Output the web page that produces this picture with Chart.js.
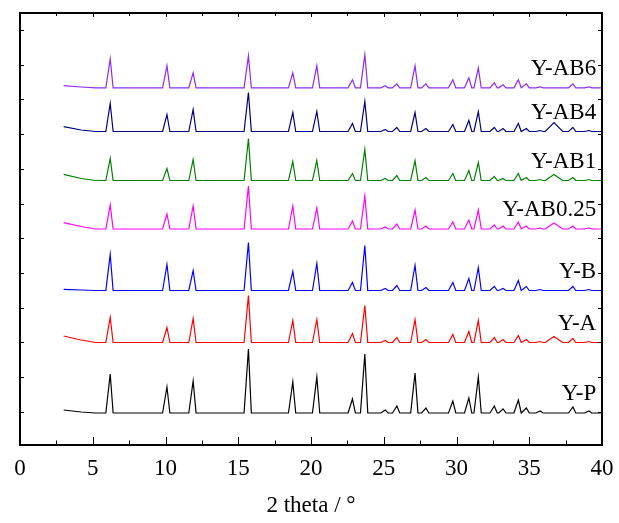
<!DOCTYPE html>
<html>
<head>
<meta charset="utf-8">
<script src="https://cdn.jsdelivr.net/npm/chart.js@4/dist/chart.umd.min.js"></script>
<style>
  html, body { margin: 0; padding: 0; background: #ffffff; }
  #wrap { width: 619px; height: 523px; }
</style>
</head>
<body>
<div id="wrap"><canvas id="xrd" width="619" height="523"></canvas></div>
<script>
// Reflection positions (2θ, degrees) shared by all patterns
const peakTheta = [6.2, 10.1, 11.9, 15.7, 18.75, 20.4, 22.85, 23.7, 25.1, 25.9, 27.15, 27.9,
                   29.75, 30.85, 31.5, 32.6, 33.2, 34.25, 34.8, 35.75, 36.7, 38.0, 39.1];

// Sample names, bottom to top
const sampleNames = ['Y-P', 'Y-A', 'Y-B', 'Y-AB0.25', 'Y-AB1', 'Y-AB4', 'Y-AB6'];

// Peak heights above background (offset intensity units), one per reflection
const heightsYP     = [39, 26, 32, 64, 31, 36, 14, 59, 3, 7, 40, 5, 12, 15, 36, 7, 4, 13, 5, 2, 0, 6, 2];
const heightsYA     = [25, 15, 24, 47, 22, 23, 9, 37, 2, 5, 23, 3, 8, 11, 22, 5, 3, 7, 3, 1, 6, 4, 1];
const heightsYB     = [36, 26, 20, 48, 19, 27, 8, 45, 2, 5, 25, 3, 8, 12, 23, 4, 2, 10, 4, 1, 0, 4, 1];
const heightsYAB025 = [24, 15, 23, 43, 23, 21, 8, 33, 2, 5, 19, 3, 7, 9, 19, 4, 3, 7, 3, 1, 6, 3, 1];
const heightsYAB1   = [22, 12, 21, 42, 19, 20, 7, 31, 2, 5, 20, 3, 7, 10, 18, 4, 2, 7, 3, 1, 6, 3, 1];
const heightsYAB4   = [28, 17, 22, 39, 19, 20, 8, 30, 2, 4, 19, 3, 7, 11, 20, 4, 3, 8, 3, 1, 9, 4, 1];
const heightsYAB6   = [29, 22, 15, 32, 15, 22, 8, 33, 2, 4, 22, 4, 8, 10, 20, 5, 3, 8, 4, 1, 0, 4, 1];

// Background level of each (offset) pattern: at 3°, at 4.2°, and from 5.2° on
const backgroundYP     = [35, 33, 32];
const backgroundYA     = [109, 105, 102.5];
const backgroundYB     = [155.7, 155, 154.5];
const backgroundYAB025 = [222.3, 218.5, 216];
const backgroundYAB1   = [270.7, 266.5, 264.5];
const backgroundYAB4   = [318.3, 315, 313.5];
const backgroundYAB6   = [359.3, 358, 357.2];

const lineColors = ['#000000', '#ff0000', '#0000ff', '#ff00ff', '#008000', '#000080', '#8c2cf5'];

// Axis ticks
const xMajorTicks = [0, 5, 10, 15, 20, 25, 30, 35, 40];
const xMinorTicks = [2.5, 7.5, 12.5, 17.5, 22.5, 27.5, 32.5, 37.5];
const yTickValues = [33.3, 68, 102.7, 137.4, 172.1, 206.8, 241.5, 276.2, 310.9, 345.6, 380.3, 415];

const allHeights = [heightsYP, heightsYA, heightsYB, heightsYAB025, heightsYAB1, heightsYAB4, heightsYAB6];
const allBackgrounds = [backgroundYP, backgroundYA, backgroundYB, backgroundYAB025, backgroundYAB1, backgroundYAB4, backgroundYAB6];

// Build the point list of one pattern: background, then each reflection as foot / top / foot
function patternPoints(bg, heights) {
  const pts = [{ x: 3.0, y: bg[0] }, { x: 4.2, y: bg[1] }, { x: 5.2, y: bg[2] }];
  peakTheta.forEach((p, i) => {
    const broad = p === 36.7;
    const left = broad ? 0.6 : 0.3;
    const right = broad ? 0.6 : 0.2;
    pts.push({ x: p - left, y: bg[2] });
    pts.push({ x: p, y: bg[2] + heights[i] });
    pts.push({ x: p + right, y: bg[2] });
  });
  pts.push({ x: 40, y: bg[2] });
  return pts;
}

const datasets = sampleNames.map((name, i) => ({
  label: name,
  data: patternPoints(allBackgrounds[i], allHeights[i]),
  borderColor: lineColors[i],
  borderWidth: 1.2,
  pointRadius: 0,
  tension: 0,
  fill: false
}));

const serif = "'Liberation Serif', 'Times New Roman', serif";

// Frame, inward tick marks and the sample names
const framePlugin = {
  id: 'frame',
  afterDatasetsDraw(chart) {
    const { ctx, chartArea: a, scales: { x, y } } = chart;
    ctx.save();
    ctx.strokeStyle = '#000';
    ctx.lineWidth = 1;
    ctx.beginPath();
    xMajorTicks.forEach(v => {
      const px = Math.round(x.getPixelForValue(v)) + 0.5;
      ctx.moveTo(px, a.bottom); ctx.lineTo(px, a.bottom - 8);
      ctx.moveTo(px, a.top); ctx.lineTo(px, a.top + 4);
    });
    xMinorTicks.forEach(v => {
      const px = Math.round(x.getPixelForValue(v)) + 0.5;
      ctx.moveTo(px, a.bottom); ctx.lineTo(px, a.bottom - 4.5);
      ctx.moveTo(px, a.top); ctx.lineTo(px, a.top + 3);
    });
    yTickValues.forEach(v => {
      const py = Math.round(y.getPixelForValue(v)) + 0.5;
      ctx.moveTo(a.left, py); ctx.lineTo(a.left + 4, py);
      ctx.moveTo(a.right, py); ctx.lineTo(a.right - 4, py);
    });
    ctx.stroke();

    ctx.lineWidth = 2;
    ctx.strokeRect(a.left, a.top, a.right - a.left, a.bottom - a.top);

    ctx.fillStyle = '#000';
    ctx.font = '23px ' + serif;
    ctx.textAlign = 'right';
    ctx.textBaseline = 'middle';
    sampleNames.forEach((name, i) => {
      const bg = allBackgrounds[i];
      ctx.fillText(name, x.getPixelForValue(39.6), y.getPixelForValue(bg[2] + 19));
    });
    ctx.restore();
  }
};

new Chart(document.getElementById('xrd'), {
  type: 'line',
  data: { datasets },
  options: {
    responsive: false,
    animation: false,
    devicePixelRatio: 1,
    layout: { padding: { left: 20, right: 17, top: 13, bottom: 0 } },
    plugins: { legend: { display: false }, tooltip: { enabled: false } },
    scales: {
      x: {
        type: 'linear',
        min: 0,
        max: 40,
        afterBuildTicks: s => { s.ticks = xMajorTicks.map(v => ({ value: v })); },
        afterFit: s => { s.height = 78; s.paddingLeft = 0; s.paddingRight = 0; },
        grid: { display: false, drawTicks: false },
        border: { display: false },
        ticks: { color: '#000', padding: 10, maxRotation: 0, font: { family: serif, size: 23 } },
        title: {
          display: true,
          text: '2 theta / °',
          color: '#000',
          font: { family: serif, size: 23 },
          padding: { top: 0, bottom: 3 }
        }
      },
      y: {
        type: 'linear',
        display: false,
        min: 0,
        max: 432
      }
    }
  },
  plugins: [framePlugin]
});
</script>
</body>
</html>
